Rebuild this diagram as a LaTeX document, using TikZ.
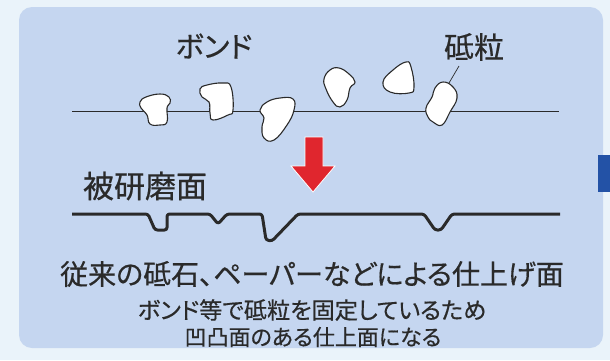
\documentclass[tikz,border=0pt]{standalone}
\usepackage{fontspec}
\setmainfont{Noto Sans CJK JP}[RawFeature=+palt,FakeBold=0.5]
\definecolor{outerbg}{HTML}{EAF3FA}
\definecolor{panelbg}{HTML}{C5D6F0}
\definecolor{tabblue}{HTML}{2352A6}
\definecolor{arrowred}{HTML}{E0262E}
\definecolor{ink}{HTML}{2A2A2A}
\begin{document}
\begin{tikzpicture}[x=1pt,y=-1pt,
  grain/.style={draw=ink,line width=1.1pt,fill=white,smooth cycle,tension=0.75},
  lbl/.style={text=ink,inner sep=0pt,anchor=center},
  surface/.style={draw=ink,line width=3pt,line join=round,rounded corners=2.5pt}]
\useasboundingbox (0,0) rectangle (610,360);
\fill[outerbg] (0,0) rectangle (610,360);
\fill[panelbg,rounded corners=13pt] (19,7) rectangle (603,348);
\fill[tabblue] (598,155) rectangle (610,192);

% bond line
\coordinate (bl) at (72,111);
\coordinate (br) at (559,111);
\draw[ink,line width=0.9pt] (bl) -- (br);

% grains
\draw[grain] plot coordinates {(140,102) (146,97) (160,94) (169,97) (170,103) (167,108) (167,122) (160,125) (150,124) (147,115) (141,108)};
\draw[grain] plot coordinates {(200,89) (207,85) (223,83) (231,87) (233,110) (228,115) (213,120) (210,113) (209,102) (202,97)};
\draw[grain] plot coordinates {(260,110) (267,102) (280,98) (293,99) (294,110) (287,125) (274,140) (264,138) (262,127) (264,118)};
\draw[grain] plot coordinates {(324,79) (330,70) (339,68) (349,74) (355,82) (350,88) (347,100) (340,107) (333,102) (326,89)};
\draw[grain] plot coordinates {(383,82) (393,70) (406,62) (411,67) (414,87) (409,93) (390,92)};
\draw[grain] plot coordinates {(426,108) (432,97) (435,88) (443,82) (453,87) (457,98) (450,112) (442,125) (433,122) (428,117)};

% labels
\node[lbl,font=\fontsize{29}{32}\selectfont] (bond) at (214,46) {ボンド};
\node[lbl,font=\fontsize{30}{33}\selectfont] (toryu) at (474,47) {砥粒};
\coordinate (grainsix) at (449,83);
\draw[ink,line width=0.7pt] (459,66) -- (grainsix);

% red arrow
\draw[fill=arrowred,draw=white,line width=0.8pt,line join=miter]
  (305,137) -- (323,137) -- (323,166) -- (335,166) -- (313,192) -- (291,166) -- (305,166) -- cycle;

% polished surface
\node[lbl,font=\fontsize{31}{34}\selectfont] (hiken) at (145,186) {被研磨面};
\coordinate (sl) at (72,214);
\coordinate (sr) at (560,214);
\draw[surface] (sl) -- (148,214) -- (155,230) -- (167,230) -- (167,214) -- (210,214) -- (218,224) -- (227,214)
  -- (262,214) -- (266,240) -- (272,241) -- (298,214) -- (424,214) -- (435,230) -- (441,230) -- (452,214) -- (sr);

% captions
\node[lbl,font=\fontsize{28}{31}\selectfont] (cap) at (312,274) {従来の砥石、ペーパーなどによる仕上げ面};
\node[lbl,font=\fontsize{23.2}{26}\selectfont] (sub1) at (312,310) {ボンド等で砥粒を固定しているため};
\node[lbl,font=\fontsize{22}{25}\selectfont] (sub2) at (313,337) {凹凸面のある仕上面になる};
\end{tikzpicture}
\end{document}
